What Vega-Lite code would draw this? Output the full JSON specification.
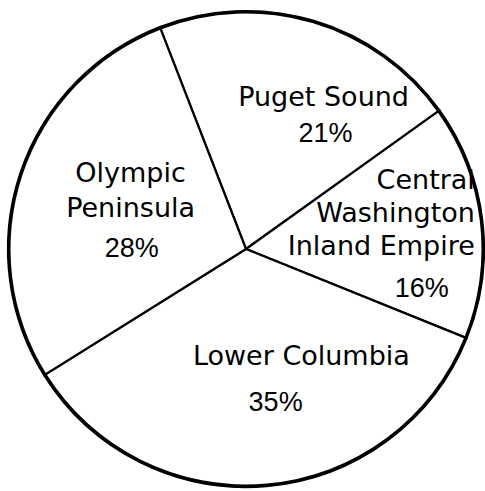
{
  "$schema": "https://vega.github.io/schema/vega-lite/v6.json",
  "autosize": {"type": "none"},
  "width": 476,
  "height": 476,
  "padding": {"left": 8, "top": 11, "right": 1, "bottom": 4},
  "background": "white",
  "config": {"view": {"stroke": null}},
  "data": {"values": [
    {"region": "Puget Sound", "name": "Puget Sound", "pct": "21%", "value": 21, "order": 1},
    {"region": "Central Washington Inland Empire", "name": "Central\nWashington\nInland Empire", "pct": "16%", "value": 16, "order": 2},
    {"region": "Lower Columbia", "name": "Lower Columbia", "pct": "35%", "value": 35, "order": 3},
    {"region": "Olympic Peninsula", "name": "Olympic\nPeninsula", "pct": "28%", "value": 28, "order": 4}
  ]},
  "encoding": {
    "theta": {"field": "value", "type": "quantitative", "stack": true, "scale": {"range": [-0.370, 5.913]}},
    "order": {"field": "order", "type": "quantitative"}
  },
  "layer": [
    {"mark": {"type": "arc", "fill": "white", "stroke": "black", "strokeWidth": 2.2}},
    {"mark": {"type": "arc", "radius": 238.5, "radius2": 235.5, "fill": "black", "strokeWidth": 0}},
    {"mark": {"type": "text", "radius": 170, "dx": 29, "dy": 12, "font": "DejaVu Sans", "fontSize": 27, "lineBreak": "\n", "lineHeight": 34, "align": "center", "baseline": "middle", "color": "black"},
     "encoding": {"text": {"condition": {"test": "datum.region === 'Puget Sound'", "field": "name"}, "value": ""}}},
    {"mark": {"type": "text", "radius": 138, "dx": 40, "dy": 17, "font": "'Liberation Sans Narrow', 'Liberation Sans'", "fontSize": 27, "align": "center", "baseline": "middle", "color": "black"},
     "encoding": {"text": {"condition": {"test": "datum.region === 'Puget Sound'", "field": "pct"}, "value": ""}}},
    {"mark": {"type": "text", "radius": 160, "dx": 70, "dy": -49, "font": "DejaVu Sans", "fontSize": 27, "lineBreak": "\n", "lineHeight": 33, "align": "right", "baseline": "middle", "color": "black"},
     "encoding": {"text": {"condition": {"test": "datum.region === 'Central Washington Inland Empire'", "field": "name"}, "value": ""}}},
    {"mark": {"type": "text", "radius": 180, "dx": -3, "dy": 61, "font": "'Liberation Sans Narrow', 'Liberation Sans'", "fontSize": 27, "align": "center", "baseline": "middle", "color": "black"},
     "encoding": {"text": {"condition": {"test": "datum.region === 'Central Washington Inland Empire'", "field": "pct"}, "value": ""}}},
    {"mark": {"type": "text", "radius": 119, "dx": 45, "dy": -11, "font": "DejaVu Sans", "fontSize": 27, "align": "center", "baseline": "middle", "color": "black"},
     "encoding": {"text": {"condition": {"test": "datum.region === 'Lower Columbia'", "field": "name"}, "value": ""}}},
    {"mark": {"type": "text", "radius": 156, "dx": 16, "dy": -1, "font": "'Liberation Sans Narrow', 'Liberation Sans'", "fontSize": 27, "align": "center", "baseline": "middle", "color": "black"},
     "encoding": {"text": {"condition": {"test": "datum.region === 'Lower Columbia'", "field": "pct"}, "value": ""}}},
    {"mark": {"type": "text", "radius": 129, "dx": 7, "dy": -34, "font": "DejaVu Sans", "fontSize": 27, "lineBreak": "\n", "lineHeight": 35, "align": "center", "baseline": "middle", "color": "black"},
     "encoding": {"text": {"condition": {"test": "datum.region === 'Olympic Peninsula'", "field": "name"}, "value": ""}}},
    {"mark": {"type": "text", "radius": 114, "dx": -6, "dy": 36, "font": "'Liberation Sans Narrow', 'Liberation Sans'", "fontSize": 27, "align": "center", "baseline": "middle", "color": "black"},
     "encoding": {"text": {"condition": {"test": "datum.region === 'Olympic Peninsula'", "field": "pct"}, "value": ""}}}
  ]
}
